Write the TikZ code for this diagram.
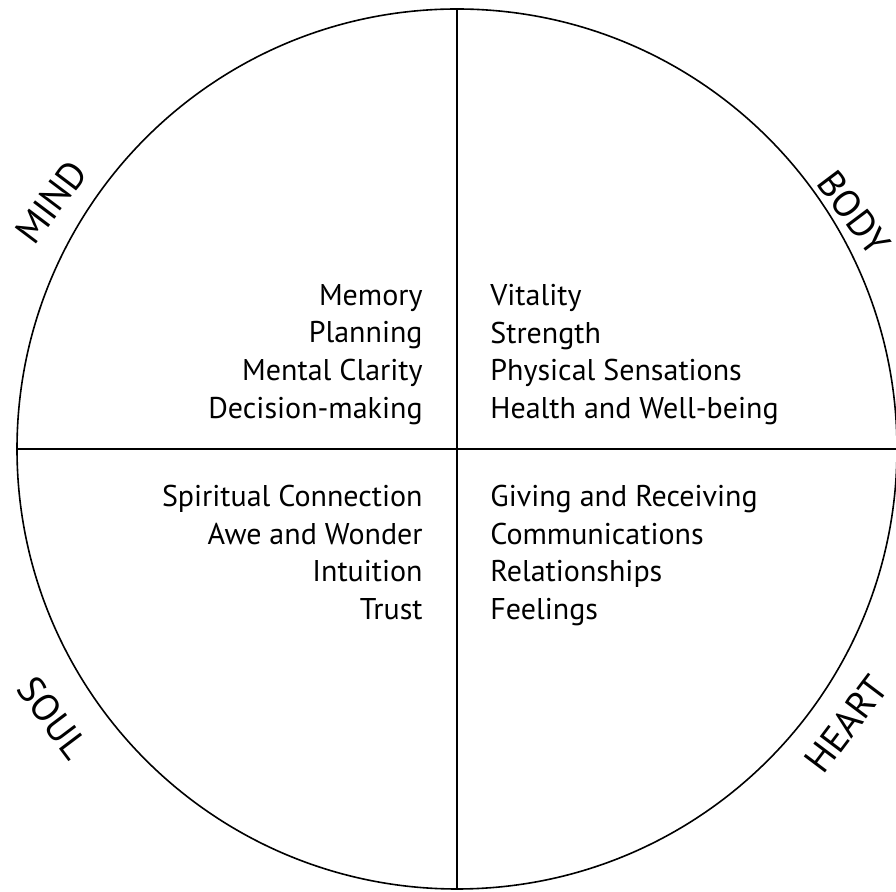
\documentclass[tikz,border=0pt]{standalone}
\usepackage{fontspec}
\setmainfont{PT Sans}
\usetikzlibrary{positioning}

\begin{document}
\begin{tikzpicture}
		[x=0.5pt,y=-0.5pt,
		 item/.style={font=\fontsize{15}{18.8}\selectfont, inner sep=0pt},
		 part/.style={font=\fontsize{19}{20}\selectfont, inner sep=0pt},]
		\useasboundingbox (0,0) rectangle (896,892);
		\begin{scope}
			\clip (0,0) rectangle (896,892);
			\coordinate (c) at (457,449);
			\draw[line width=0.8pt] (c) circle (440);
			\coordinate (top) at (457,9);
			\coordinate (bot) at (457,889);
			\coordinate (lft) at (17,449);
			\coordinate (rgt) at (897,449);
			\draw[line width=0.8pt] (top) -- (bot);
			\draw[line width=0.8pt] (lft) -- (rgt);
		\end{scope}
		
		% four parts
		\node[part,rotate=53] (mind) at (51,202) {MIND};
		\node[part,rotate=-53] (body) at (854,213) {BODY};
		\node[part,rotate=-53] (soul) at (53,718) {SOUL};
		\node[part,rotate=53] (heart) at (846,724) {HEART};
		
		% lists
		\node[item,anchor=north east,align=right] (mindlist) at (423,284)
			{Memory\\Planning\\Mental Clarity\\Decision-making};
		\node[item,anchor=north west,align=left] (bodylist) at (490,284)
			{Vitality\\Strength\\Physical Sensations\\Health and Well-being};
		\node[item,anchor=north east,align=right] (soullist) at (423,485)
			{Spiritual Connection\\Awe and Wonder\\Intuition\\Trust};
		\node[item,anchor=north west,align=left] (heartlist) at (490,485)
			{Giving and Receiving\\Communications\\Relationships\\Feelings};
		
	\end{tikzpicture}
\end{document}
